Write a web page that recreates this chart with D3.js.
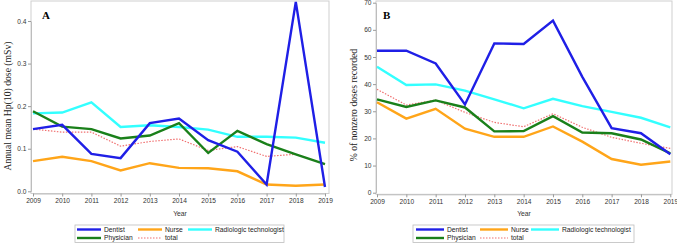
<!DOCTYPE html>
<html><head><meta charset="utf-8">
<script src="https://cdn.jsdelivr.net/npm/d3@7"></script>
<style>body{margin:0;background:#fff}svg{display:block}</style>
</head><body>
<svg id="c" width="677" height="245"></svg>
<script>
const years = [2009,2010,2011,2012,2013,2014,2015,2016,2017,2018,2019];
const seriesNames = ["Dentist","Nurse","Radiologic technologist","Physician","total"];
// Panel A: Annual mean Hp(10) dose (mSv)
const doseDentist   = [0.146,0.156,0.088,0.078,0.160,0.171,0.120,0.093,0.016,0.445,0.010];
const doseNurse     = [0.071,0.081,0.071,0.049,0.066,0.055,0.054,0.047,0.016,0.013,0.016];
const doseRadiolog  = [0.183,0.185,0.209,0.151,0.155,0.151,0.145,0.128,0.128,0.126,0.114];
const dosePhysician = [0.188,0.152,0.146,0.124,0.131,0.160,0.090,0.142,0.111,0.087,0.064];
const doseTotal     = [0.146,0.139,0.139,0.106,0.117,0.123,0.096,0.105,0.082,0.087,0.064];
// Panel B: % of nonzero doses recorded
const pctDentist   = [52.3,52.3,47.6,32.5,55.0,54.8,63.4,42.7,23.8,21.9,14.2];
const pctNurse     = [33.3,27.3,30.9,23.6,20.6,20.6,24.4,18.8,12.4,10.3,11.5];
const pctRadiolog  = [46.4,39.7,39.9,37.6,34.4,31.1,34.6,31.9,29.8,27.6,24.1];
const pctPhysician = [34.4,31.6,34.0,31.4,22.6,22.7,28.2,22.2,21.9,19.6,14.5];
const pctTotal     = [38.1,32.3,34.1,29.6,25.9,24.3,29.1,24.1,20.4,18.2,16.3];
const ticksA = [0,0.1,0.2,0.3,0.4];
const ticksB = [0,10,20,30,40,50,60,70];

const styles = {
  "Dentist": {c:"#1f1fe6", w:2.4, d:null},
  "Nurse": {c:"#ffa519", w:2.4, d:null},
  "Radiologic technologist": {c:"#33ffff", w:2.4, d:null},
  "Physician": {c:"#1a801a", w:2.4, d:null},
  "total": {c:"#f07070", w:1.2, d:"1.5,1.5"}
};
const drawOrder = ["Radiologic technologist","Nurse","total","Physician","Dentist"];

const svg = d3.select("#c");
const sans = "Liberation Sans, Arial, sans-serif";
const serif = "Liberation Serif, Times New Roman, serif";

function panel(cfg){
  const g = svg.append("g");
  const x = d3.scaleLinear().domain([2009,2019]).range([cfg.x0, cfg.x1]);
  const y = d3.scaleLinear().domain([0, cfg.ymax]).range([cfg.y0, cfg.y1]);
  g.append("rect").attr("x",cfg.fl).attr("y",cfg.ft).attr("width",cfg.fr-cfg.fl).attr("height",cfg.fb-cfg.ft)
    .attr("fill","none").attr("stroke","#cfcfcf").attr("stroke-width",1);
  const ax = g.append("g").attr("transform",`translate(0,${cfg.fb})`)
    .call(d3.axisBottom(x).tickValues(years).tickFormat(d3.format("d")).tickSize(3).tickSizeOuter(0));
  const ay = g.append("g").attr("transform",`translate(${cfg.fl},0)`)
    .call(d3.axisLeft(y).tickValues(cfg.ticks).tickFormat(cfg.fmt).tickSize(3).tickSizeOuter(0));
  [ax,ay].forEach(a=>{
    a.select(".domain").attr("stroke","#bdbdbd");
    a.selectAll(".tick line").attr("stroke","#9a9a9a");
    a.selectAll("text").attr("fill","#333").style("font-family",sans).style("font-size","6.6px");
  });
  ax.selectAll("text").attr("y",5).attr("dy","0.75em");
  ay.selectAll("text").attr("x",-4.5);
  const line = d3.line().x((d,i)=>x(years[i])).y(d=>y(d));
  drawOrder.forEach(n=>{
    const s = styles[n];
    g.append("path").datum(cfg.data[n]).attr("d",line).attr("fill","none")
      .attr("stroke",s.c).attr("stroke-width",s.w).attr("stroke-dasharray",s.d)
      .attr("stroke-linejoin","miter");
  });
  g.append("text").attr("x",cfg.lx).attr("y",19).text(cfg.letter)
    .style("font-family",serif).style("font-weight","bold").style("font-size","11px");
  g.append("text").attr("transform",`translate(${cfg.tx},${cfg.ty}) rotate(-90)`)
    .attr("text-anchor","middle").text(cfg.title)
    .style("font-family",serif).style("font-size","9.7px").attr("fill","#222");
  g.append("text").attr("x",cfg.yearX).attr("y",215.5).attr("text-anchor","middle").text("Year")
    .style("font-family",sans).style("font-size","6.8px").attr("fill","#333");
  const L = cfg.leg;
  g.append("rect").attr("x",L.x0).attr("y",225).attr("width",L.x1-L.x0).attr("height",17.5)
    .attr("fill","none").attr("stroke","#bdbdbd").attr("stroke-width",0.8);
  const items = [
    {n:"Dentist", lx:L.c1, row:0},{n:"Nurse", lx:L.c2, row:0},{n:"Radiologic technologist", lx:L.c3, row:0},
    {n:"Physician", lx:L.c1, row:1},{n:"total", lx:L.c2, row:1}
  ];
  items.forEach(it=>{
    const s = styles[it.n]; const yy = it.row===0?229.5:238;
    g.append("line").attr("x1",it.lx).attr("x2",it.lx+L.len).attr("y1",yy).attr("y2",yy)
      .attr("stroke",s.c).attr("stroke-width",s.w).attr("stroke-dasharray",s.d);
    g.append("text").attr("x",it.lx+L.len+3).attr("y",yy+2.4).text(it.n)
      .style("font-family",sans).style("font-size","6.7px").attr("fill","#222");
  });
}

panel({
  x0:33, x1:325, y0:191.3, y1:21, ymax:0.4, ticks:ticksA, fmt:d3.format(".1f"),
  fl:31, fr:329, ft:1, fb:193.5, letter:"A", lx:42, tx:11, ty:106, yearX:180,
  title:"Annual mean Hp(10) dose (mSv)",
  data:{"Dentist":doseDentist,"Nurse":doseNurse,"Radiologic technologist":doseRadiolog,"Physician":dosePhysician,"total":doseTotal},
  leg:{x0:75,x1:284,c1:77,c2:138,c3:188,len:24}
});
panel({
  x0:377, x1:670.3, y0:192.7, y1:2.7, ymax:70, ticks:ticksB, fmt:d3.format("d"),
  fl:376, fr:672, ft:1, fb:194.3, letter:"B", lx:383, tx:357, ty:105, yearX:524,
  title:"% of nonzero doses recorded",
  data:{"Dentist":pctDentist,"Nurse":pctNurse,"Radiologic technologist":pctRadiolog,"Physician":pctPhysician,"total":pctTotal},
  leg:{x0:413,x1:634,c1:416,c2:480,c3:531,len:28}
});
</script>
</body></html>
